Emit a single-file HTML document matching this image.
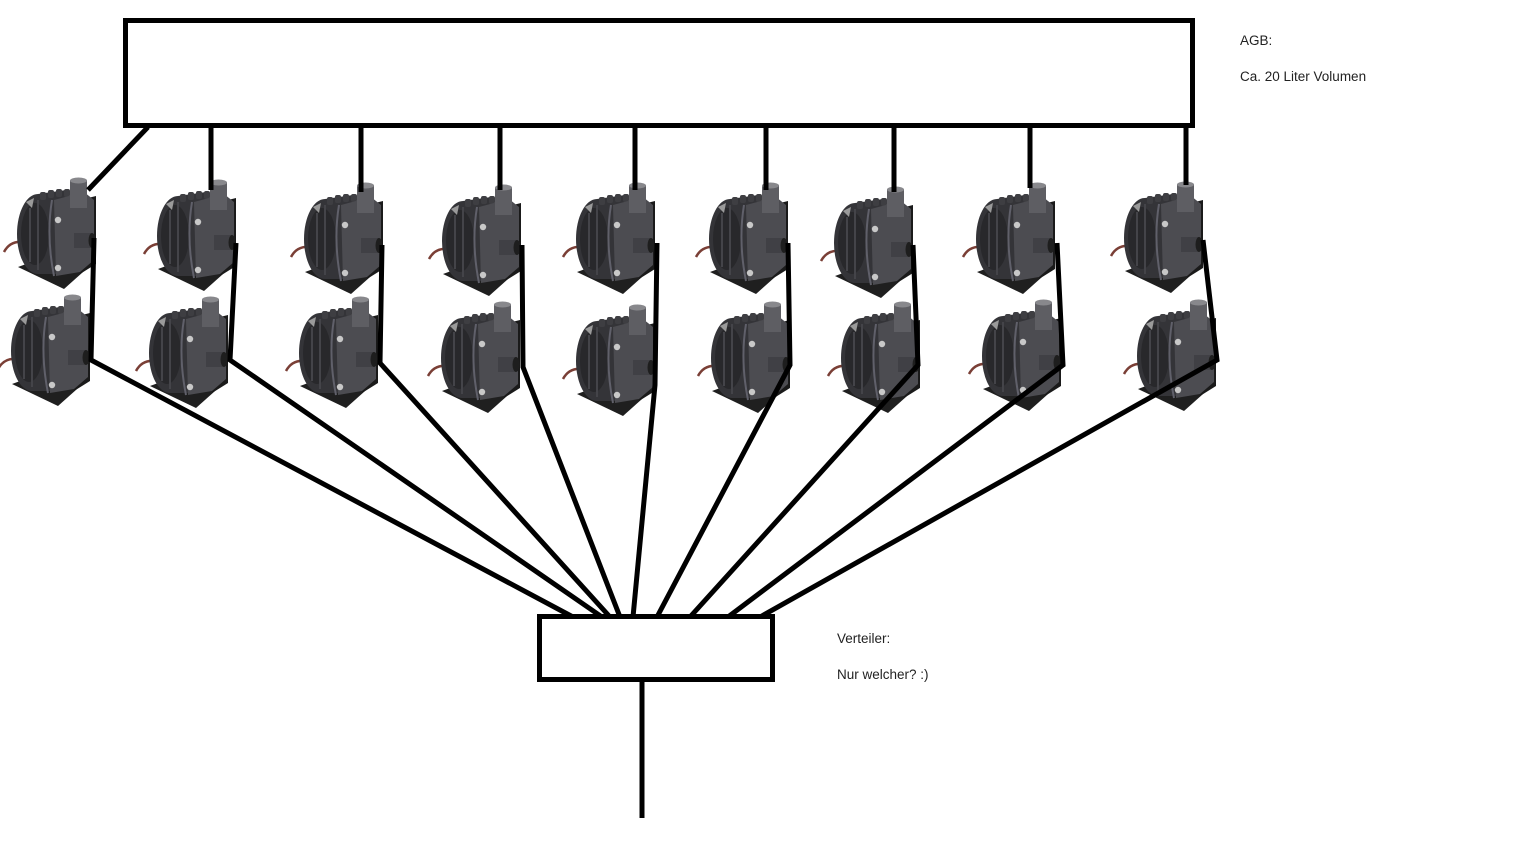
<!DOCTYPE html>
<html>
<head>
<meta charset="utf-8">
<style>
  html,body{margin:0;padding:0;background:#fff;}
  body{width:1515px;height:856px;overflow:hidden;position:relative;}
  svg{position:absolute;left:0;top:0;}
  .t{font-family:"Liberation Sans",Arial,sans-serif;font-size:13.5px;fill:#222;}
</style>
</head>
<body>
<svg width="1515" height="856" viewBox="0 0 1515 856" xmlns="http://www.w3.org/2000/svg">
  <defs>
    <g id="pump">
      <path d="M-74,74 Q-68,63 -56,64" stroke="#7a3f36" stroke-width="2.5" fill="none"/>
      <polygon points="-60,89 -30,78 14,86 -14,111" fill="#1f1f1f"/>
      <polygon points="2,22 18,18 18,86 2,96" fill="#1a1a1a"/>
      <path d="M-40,16 L-12,12 L-10,96 L-40,96 A21,40 0 0 1 -40,16 Z" fill="#343438"/>
      <ellipse cx="-43" cy="56" rx="14" ry="31" fill="#28282b"/>
      <path d="M-48,30 L-48,84 M-40,22 L-40,92" stroke="#444449" stroke-width="2" fill="none"/>
      <path d="M-52,24 L-44,20 L-46,30 Z" fill="#9a9a9a"/>
      <rect x="-38" y="14" width="6" height="8" rx="2" fill="#3e3e42"/>
      <rect x="-30" y="12" width="6" height="8" rx="2" fill="#3e3e42"/>
      <rect x="-22" y="11" width="6" height="8" rx="2" fill="#3e3e42"/>
      <rect x="-14" y="11" width="6" height="8" rx="2" fill="#3e3e42"/>
      <path d="M-24,22 L6,14 L16,22 L16,82 L2,94 L-22,98 Z" fill="#4c4c51"/>
      <path d="M-26,22 Q-32,58 -24,98" stroke="#60606a" stroke-width="2" fill="none"/>
      <circle cx="-20" cy="42" r="3.2" fill="#c8c8c8"/>
      <circle cx="-20" cy="90" r="3.2" fill="#c8c8c8"/>
      <rect x="-8" y="2" width="17" height="28" fill="#5e5e63"/>
      <ellipse cx="0.5" cy="2.5" rx="8.5" ry="3" fill="#88888c"/>
      <rect x="-4" y="55" width="18" height="15" fill="#404045"/>
      <ellipse cx="14" cy="62.5" rx="3.5" ry="7.5" fill="#1e1e1e"/>
    </g>
  </defs>

  <rect width="1515" height="856" fill="#fff"/>

  <!-- pumps top row -->
  <use href="#pump" x="78" y="178"/>
  <use href="#pump" x="218" y="180"/>
  <use href="#pump" x="365" y="183"/>
  <use href="#pump" x="503" y="185"/>
  <use href="#pump" x="637" y="183"/>
  <use href="#pump" x="770" y="183"/>
  <use href="#pump" x="895" y="187"/>
  <use href="#pump" x="1037" y="183"/>
  <use href="#pump" x="1185" y="182"/>
  <!-- pumps bottom row -->
  <use href="#pump" x="72" y="295"/>
  <use href="#pump" x="210" y="297"/>
  <use href="#pump" x="360" y="297"/>
  <use href="#pump" x="502" y="302"/>
  <use href="#pump" x="637" y="305"/>
  <use href="#pump" x="772" y="302"/>
  <use href="#pump" x="902" y="302"/>
  <use href="#pump" x="1043" y="300"/>
  <use href="#pump" x="1198" y="300"/>

  <!-- top box (AGB) -->
  <rect x="125.5" y="20.5" width="1067" height="105" fill="none" stroke="#000" stroke-width="5"/>

  <g stroke="#000" stroke-width="5" fill="none">
    <!-- box to pumps -->
    <line x1="148" y1="127" x2="88" y2="190"/>
    <line x1="211" y1="127" x2="211" y2="190"/>
    <line x1="361" y1="127" x2="361" y2="192"/>
    <line x1="500" y1="127" x2="500" y2="190"/>
    <line x1="635" y1="127" x2="635" y2="190"/>
    <line x1="766" y1="127" x2="766" y2="190"/>
    <line x1="894" y1="127" x2="894" y2="192"/>
    <line x1="1030" y1="127" x2="1030" y2="188"/>
    <line x1="1186" y1="127" x2="1186" y2="185"/>

    <!-- pumps to distributor -->
    <polyline points="94,238 91,360 573,617"/>
    <polyline points="236,243 230,360 602,617"/>
    <polyline points="382,245 380,363 610,617"/>
    <polyline points="522,245 523,367 620,617"/>
    <polyline points="657,243 655,385 633,617"/>
    <polyline points="788,243 790,365 657,617"/>
    <polyline points="913,245 918,365 690,617"/>
    <polyline points="1057,243 1063,365 728,617"/>
    <polyline points="1203,240 1217,360 760,617"/>

    <!-- distributor box -->
    <rect x="539.5" y="616.5" width="233" height="63" fill="#fff"/>
    <line x1="642" y1="681" x2="642" y2="818"/>
  </g>

  <text class="t" x="1240" y="45">AGB:</text>
  <text class="t" x="1240" y="81">Ca. 20 Liter Volumen</text>
  <text class="t" x="837" y="643">Verteiler:</text>
  <text class="t" x="837" y="679">Nur welcher? :)</text>
</svg>
</body>
</html>
